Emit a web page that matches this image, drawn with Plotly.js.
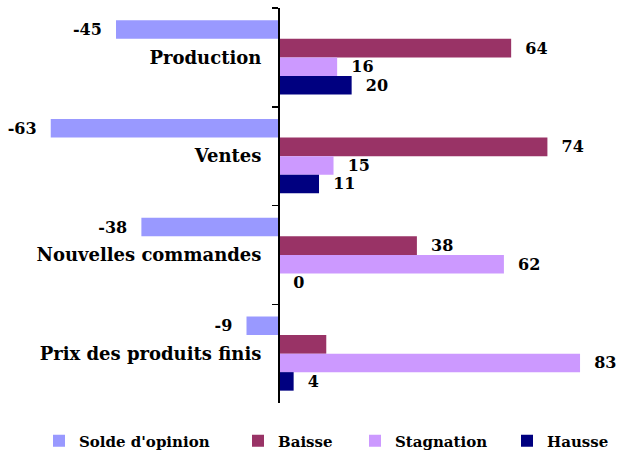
<!DOCTYPE html>
<html><head><meta charset="utf-8">
<script src="https://cdn.plot.ly/plotly-3.0.1.min.js"></script>
<style>body{margin:0;background:#fff}</style>
</head><body><div id="chart" style="width:621px;height:450px"></div>
<script>
const categories = ['Production', 'Ventes', 'Nouvelles commandes', 'Prix des produits finis'];
const seriesNames = ["Solde d'opinion", 'Baisse', 'Stagnation', 'Hausse'];
const solde = [-45, -63, -38, -9];
const baisse = [64, 74, 38, 13];
const stagnation = [16, 15, 62, 83];
const hausse = [20, 11, 0, 4];
const baisseLabelShown = [true, true, true, false];
const colors = ['#9999FF', '#993366', '#CC99FF', '#000080'];

const FONT = '"DejaVu Serif", serif';
const pad = '\u00a0\u00a0';
function lbl(vals, shown) {
  return vals.map((v, i) => (shown && !shown[i]) ? '' : (v < 0 ? v + pad : pad + v));
}
const series = [solde, baisse, stagnation, hausse];
const shownList = [null, baisseLabelShown, null, null];
const legendIds = ['legend', 'legend2', 'legend3', 'legend4'];
const traces = series.map((vals, k) => ({
  type: 'bar', orientation: 'h', name: seriesNames[k],
  y: categories, x: vals,
  marker: {color: colors[k]},
  text: lbl(vals, shownList[k]), textposition: 'outside', cliponaxis: false,
  constraintext: 'none',
  textfont: {family: FONT, size: 16, color: '#000', weight: 'bold'},
  hoverinfo: 'x+y', legend: legendIds[k]
}));

const legX = [39, 238, 355, 507];
const legendBase = {orientation: 'h', xref: 'container', yref: 'container',
  y: 1 - 441 / 450, yanchor: 'middle', xanchor: 'left',
  font: {family: FONT, size: 15, color: '#000', weight: 'bold'}, bgcolor: 'rgba(0,0,0,0)'};
const layout = {
  width: 621, height: 450,
  margin: {l: 0, r: 0, t: 8, b: 47},
  paper_bgcolor: '#fff', plot_bgcolor: '#fff',
  barmode: 'group', bargap: 0.25, bargroupgap: 0,
  xaxis: {range: [-77, 94.3], visible: false, zeroline: false, showgrid: false},
  yaxis: {
    autorange: 'reversed', anchor: 'free', position: 279 / 621,
    showline: true, linecolor: '#000', linewidth: 2,
    ticks: 'outside', ticklen: 6, tickwidth: 1.5, tickcolor: '#000',
    tickson: 'boundaries', showgrid: false, zeroline: false,
    ticklabelstandoff: 13,
    tickfont: {family: FONT, size: 18, color: '#000', weight: 'bold'}
  },
  showlegend: true
};
legendIds.forEach((id, k) => { layout[id] = Object.assign({}, legendBase, {x: legX[k] / 621}); });

Plotly.newPlot('chart', traces, layout, {displayModeBar: false, staticPlot: true});
</script>
</body></html>
